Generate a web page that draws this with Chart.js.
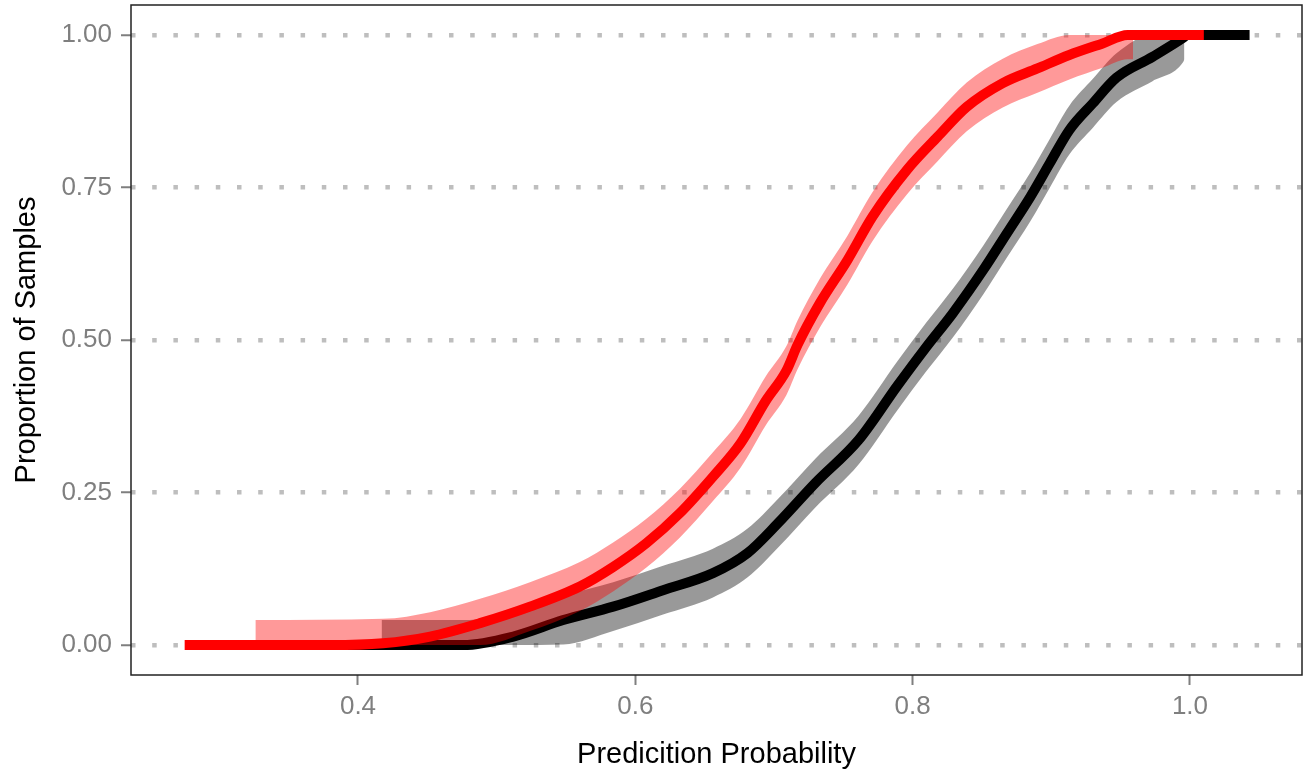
<!DOCTYPE html>
<html>
<head>
<meta charset="utf-8">
<script src="https://cdn.jsdelivr.net/npm/chart.js@4.4.1/dist/chart.umd.min.js"></script>
<style>
  body { margin: 0; background: #fff; }
  #wrap { width: 1306px; height: 773px; }
</style>
</head>
<body>
<div id="wrap"><canvas id="ecdf" width="1306" height="773"></canvas></div>
<script>
// red group: curve + band
var redX = [0.275, 0.380, 0.418, 0.452, 0.488, 0.524, 0.560, 0.584, 0.608, 0.632, 0.656, 0.676, 0.694, 0.709, 0.717, 0.733, 0.753, 0.771, 0.796, 0.818, 0.839, 0.865, 0.890, 0.913, 0.937, 0.955, 1.010];
var redY = [0, 0, 0.003, 0.014, 0.036, 0.063, 0.096, 0.128, 0.167, 0.216, 0.276, 0.331, 0.400, 0.450, 0.492, 0.560, 0.631, 0.702, 0.779, 0.833, 0.882, 0.921, 0.945, 0.967, 0.986, 1, 1];
var redBandX = [0.326, 0.418, 0.452, 0.488, 0.524, 0.560, 0.584, 0.608, 0.632, 0.656, 0.676, 0.694, 0.709, 0.717, 0.733, 0.753, 0.771, 0.796, 0.818, 0.839, 0.865, 0.890, 0.913, 0.937, 0.955, 0.959];
var redBandLow = [0, 0, 0, 0, 0.023, 0.056, 0.088, 0.127, 0.176, 0.236, 0.291, 0.360, 0.410, 0.452, 0.520, 0.591, 0.662, 0.739, 0.793, 0.842, 0.881, 0.905, 0.927, 0.946, 0.960, 0.960];
var redBandHigh = [0.041, 0.043, 0.054, 0.076, 0.103, 0.136, 0.168, 0.207, 0.256, 0.316, 0.371, 0.440, 0.490, 0.532, 0.600, 0.671, 0.742, 0.819, 0.873, 0.922, 0.961, 0.985, 1, 1, 1, 1];

// black group: curve + band
var blackX = [0.370, 0.476, 0.512, 0.548, 0.584, 0.620, 0.656, 0.681, 0.703, 0.730, 0.761, 0.789, 0.810, 0.829, 0.851, 0.868, 0.885, 0.899, 0.913, 0.930, 0.947, 0.973, 0.995, 0.998, 1.043];
var blackY = [0, 0, 0.014, 0.041, 0.063, 0.090, 0.118, 0.151, 0.200, 0.266, 0.336, 0.425, 0.489, 0.544, 0.615, 0.675, 0.735, 0.790, 0.844, 0.888, 0.930, 0.964, 0.995, 1, 1];
var blackBandX = [0.417, 0.476, 0.512, 0.548, 0.584, 0.620, 0.656, 0.681, 0.703, 0.730, 0.761, 0.789, 0.810, 0.829, 0.851, 0.868, 0.885, 0.899, 0.913, 0.930, 0.947, 0.973, 0.995, 0.996];
var blackBandLow = [0, 0, 0, 0.001, 0.023, 0.050, 0.078, 0.111, 0.160, 0.226, 0.296, 0.385, 0.449, 0.504, 0.575, 0.635, 0.695, 0.750, 0.804, 0.848, 0.890, 0.924, 0.955, 0.960];
var blackBandHigh = [0.041, 0.041, 0.054, 0.081, 0.103, 0.130, 0.158, 0.191, 0.240, 0.306, 0.376, 0.465, 0.529, 0.584, 0.655, 0.715, 0.775, 0.830, 0.884, 0.928, 0.970, 1, 1, 1];

var xTicks = [0.4, 0.6, 0.8, 1.0];
var yTicks = [0, 0.25, 0.5, 0.75, 1];

var FONT = "'Liberation Sans', Arial, sans-serif";
var TICK_GREY = '#7f7f7f';

function pts(xs, ys) {
  return xs.map(function(x, i) { return { x: x, y: ys[i] }; });
}

function lineSet(xs, ys, color, order) {
  return { data: pts(xs, ys), borderColor: color, borderWidth: 10, pointRadius: 0,
           cubicInterpolationMode: 'monotone', fill: false, order: order };
}

function bandSet(xs, ys, fill, color, order) {
  return { data: pts(xs, ys), borderColor: 'rgba(0,0,0,0)', borderWidth: 0, pointRadius: 0,
           cubicInterpolationMode: 'monotone', fill: fill, backgroundColor: color, order: order };
}

// the panel frame round the plot area
var panelBorder = {
  id: 'panelBorder',
  afterDraw: function(chart) {
    var ctx = chart.ctx, a = chart.chartArea;
    ctx.save();
    ctx.strokeStyle = '#222';
    ctx.lineWidth = 1.5;
    ctx.strokeRect(a.left, a.top, a.right - a.left, a.bottom - a.top);
    ctx.restore();
  }
};

new Chart(document.getElementById('ecdf'), {
  type: 'line',
  data: {
    datasets: [
      lineSet(redX, redY, '#ff0000', 0),
      bandSet(redBandX, redBandLow, false, 'rgba(0,0,0,0)', 1),
      bandSet(redBandX, redBandHigh, '-1', 'rgba(255,0,0,0.4)', 1),
      lineSet(blackX, blackY, '#000000', 2),
      bandSet(blackBandX, blackBandLow, false, 'rgba(0,0,0,0)', 3),
      bandSet(blackBandX, blackBandHigh, '-1', 'rgba(0,0,0,0.4)', 3)
    ]
  },
  options: {
    responsive: false,
    animation: false,
    devicePixelRatio: 1,
    layout: { padding: { top: 5, right: 4, left: 0, bottom: 0 } },
    plugins: { legend: { display: false }, tooltip: { enabled: false } },
    scales: {
      x: {
        type: 'linear',
        min: 0.2363,
        max: 1.0808,
        afterBuildTicks: function(s) { s.ticks = xTicks.map(function(v) { return { value: v }; }); },
        afterFit: function(s) { s.height = 98; s.paddingLeft = 0; s.paddingRight = 0; },
        grid: { drawOnChartArea: false, tickLength: 10, tickColor: TICK_GREY, tickWidth: 2 },
        border: { display: false },
        ticks: { font: { family: FONT, size: 26 }, color: TICK_GREY, padding: 6, maxRotation: 0, autoSkip: false,
                 callback: function(v) { return v.toFixed(1); } },
        title: { display: true, text: 'Predicition Probability', color: '#000', font: { family: FONT, size: 29 }, padding: { top: 0, bottom: 1 } }
      },
      y: {
        min: -0.049,
        max: 1.049,
        z: 1,
        afterBuildTicks: function(s) { s.ticks = yTicks.map(function(v) { return { value: v }; }); },
        afterFit: function(s) { s.width = 131; s.paddingTop = 0; s.paddingBottom = 0; },
        grid: { color: '#bebebe', lineWidth: 4.5, tickLength: 10, tickColor: TICK_GREY, tickWidth: 2 },
        border: { display: false, dash: [4.5, 16.7] },
        ticks: { font: { family: FONT, size: 26 }, color: TICK_GREY, padding: 9,
                 callback: function(v) { return v.toFixed(2); } },
        title: { display: true, text: 'Proportion of Samples', color: '#000', font: { family: FONT, size: 29 }, padding: { top: 10, bottom: 0 } }
      }
    }
  },
  plugins: [panelBorder]
});
</script>
</body>
</html>
